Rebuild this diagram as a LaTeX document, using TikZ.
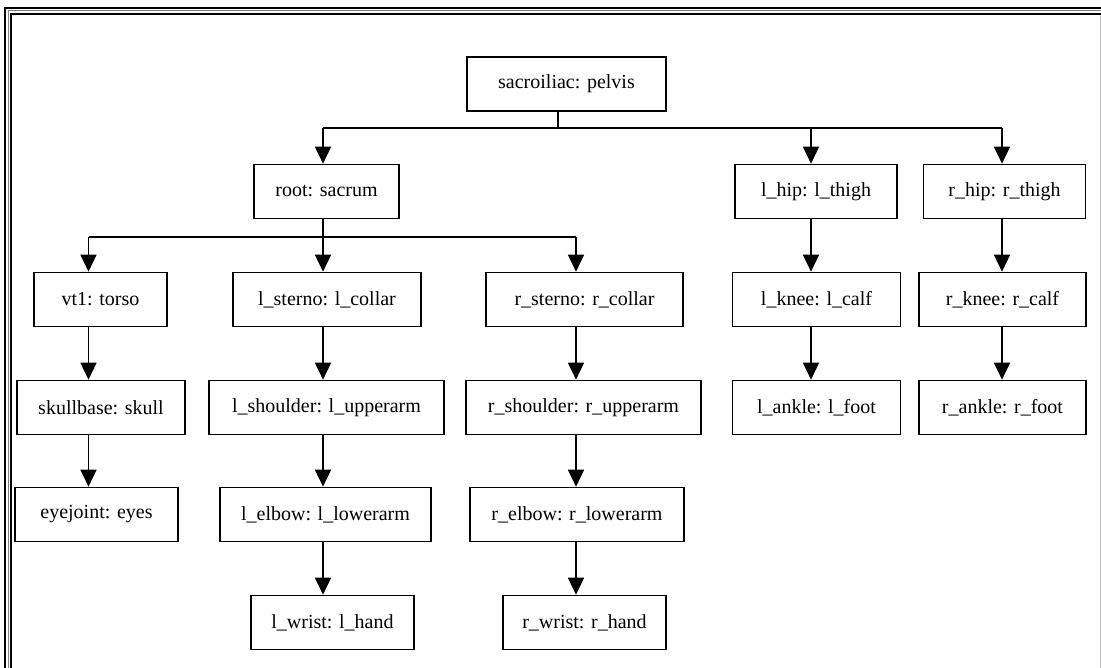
\documentclass[tikz,border=0pt]{standalone}
\usepackage{fontspec}
\setmainfont{Liberation Serif}
\usepackage{tikz}
\usetikzlibrary{positioning, arrows.meta, calc}

\begin{document}
\begin{tikzpicture}[
    x=1pt, y=-1pt,
    joint/.style={rectangle, draw, line width=1.6pt, minimum height=54pt, inner sep=0pt, align=center, font=\fontsize{20}{24}\selectfont},
    link/.style={line width=1.5pt, color=black},
    arrow/.style={link, -{Triangle[length=17pt, width=16pt]}}
]
\useasboundingbox (0,0) rectangle (1101,668);

% Frame
\draw[line width=2pt] (5,668) -- (5,8) -- (1101,8);
\draw[gray, line width=1pt] (8.5,668) -- (8.5,11) -- (1101,11);
\draw[line width=2pt] (11,668) -- (11,14) -- (1101,14);
\draw[gray!50, line width=1pt] (1100,15) -- (1100,668);

% Nodes
\node[joint, minimum width=199pt] (sacro) at (566.5,84) {sacroiliac: pelvis};

\node[joint, minimum width=145pt] (root) at (326.5,191.5) {root: sacrum};
\node[joint, minimum width=162pt] (lhip) at (816,191.5) {l\_hip: l\_thigh};
\node[joint, minimum width=162pt] (rhip) at (1004.5,191.5) {r\_hip: r\_thigh};

\node[joint, minimum width=133pt] (vt1) at (100.5,299.5) {vt1: torso};
\node[joint, minimum width=188pt] (lsterno) at (327,299.5) {l\_sterno: l\_collar};
\node[joint, minimum width=197pt] (rsterno) at (584.5,299.5) {r\_sterno: r\_collar};
\node[joint, minimum width=168pt] (lknee) at (816.5,299.5) {l\_knee: l\_calf};
\node[joint, minimum width=167pt] (rknee) at (1002.5,299.5) {r\_knee: r\_calf};

\node[joint, minimum width=168pt] (skull) at (101,407.5) {skullbase: skull};
\node[joint, minimum width=235pt] (lshoulder) at (326.5,407.5) {l\_shoulder: l\_upperarm};
\node[joint, minimum width=235pt] (rshoulder) at (583.5,407.5) {r\_shoulder: r\_upperarm};
\node[joint, minimum width=168pt] (lankle) at (816.5,407.5) {l\_ankle: l\_foot};
\node[joint, minimum width=167pt] (rankle) at (1002.5,407.5) {r\_ankle: r\_foot};

\node[joint, minimum width=163pt] (eyes) at (96.5,514.5) {eyejoint: eyes};
\node[joint, minimum width=211pt] (lelbow) at (325.5,514.5) {l\_elbow: l\_lowerarm};
\node[joint, minimum width=214pt] (relbow) at (577,514.5) {r\_elbow: r\_lowerarm};

\node[joint, minimum width=163pt] (lwrist) at (332.5,622.5) {l\_wrist: l\_hand};
\node[joint, minimum width=163pt] (rwrist) at (584.5,622.5) {r\_wrist: r\_hand};

% Columns and buses
\coordinate (stem) at (558,0);
\coordinate (colA) at (88.5,0);
\coordinate (colB) at (323,0);
\coordinate (colC) at (576,0);
\coordinate (colD) at (811,0);
\coordinate (colE) at (1002,0);
\coordinate (busTop) at (0,128);
\coordinate (busRoot) at (0,237);

% Arrows
\draw[link] (sacro.south -| stem) -- (busTop -| stem);
\draw[link] (busTop -| colB) -- (busTop -| colE);
\draw[arrow] (busTop -| colB) -- (root.north -| colB);
\draw[arrow] (busTop -| colD) -- (lhip.north -| colD);
\draw[arrow] (busTop -| colE) -- (rhip.north -| colE);

\draw[link] (root.south -| colB) -- (busRoot -| colB);
\draw[link] (busRoot -| colA) -- (busRoot -| colC);
\draw[arrow] (busRoot -| colA) -- (vt1.north -| colA);
\draw[arrow] (busRoot -| colB) -- (lsterno.north -| colB);
\draw[arrow] (busRoot -| colC) -- (rsterno.north -| colC);

\foreach \from/\to/\col in {vt1/skull/colA, skull/eyes/colA,
    lsterno/lshoulder/colB, lshoulder/lelbow/colB, lelbow/lwrist/colB,
    rsterno/rshoulder/colC, rshoulder/relbow/colC, relbow/rwrist/colC,
    lhip/lknee/colD, lknee/lankle/colD,
    rhip/rknee/colE, rknee/rankle/colE}
  \draw[arrow] (\from.south -| \col) -- (\to.north -| \col);

\end{tikzpicture}
\end{document}
